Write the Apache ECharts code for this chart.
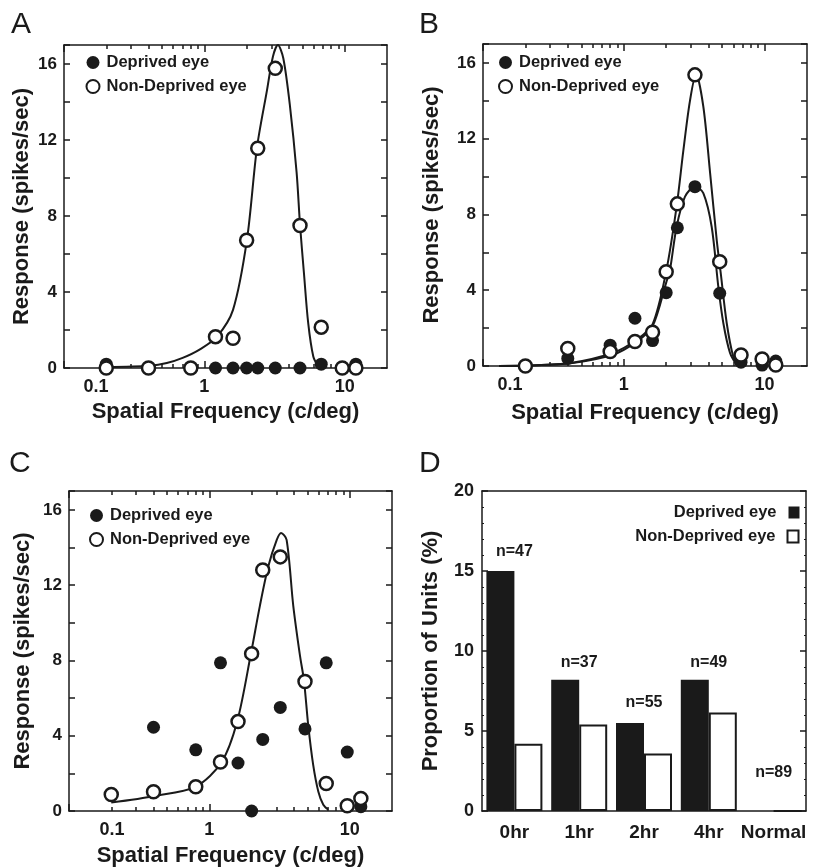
<!DOCTYPE html>
<html>
<head>
<meta charset="UTF-8">
<title>Spatial frequency tuning</title>
<script src="https://cdn.jsdelivr.net/npm/echarts@6/dist/echarts.min.js"></script>
<style>
  body { margin: 0; background: #fff; }
  #main { width: 814px; height: 868px; }
</style>
</head>
<body>
<div id="main"></div>
<script>
// spatial frequencies tested (c/deg), shared by panels A-C
var sf = [0.2, 0.4, 0.8, 1.2, 1.6, 2.0, 2.4, 3.2, 4.8, 6.8, 9.6, 12];

// panel A responses (spikes/sec)
var aDep = [0.2, 0, 0, 0, 0, 0, 0, 0, 0, 0.2, 0, 0.2];
var aNon = [0, 0, 0, 1.65, 1.57, 6.72, 11.57, 15.77, 7.5, 2.15, 0, 0];
// fitted curve A
var aFitF = [0.2, 0.41, 0.54, 0.7, 0.93, 1.23, 1.6, 2.01, 2.37, 2.79, 3.08, 3.34, 3.65, 4.07, 4.54, 4.8, 5.12, 5.49, 5.97, 6.48];
var aFitR = [0.05, 0.12, 0.26, 0.53, 0.98, 1.65, 3.06, 6.74, 11.6, 14.6, 16.4, 17.0, 16.3, 13.8, 10.3, 7.55, 5.0, 2.37, 0.6, 0.07];

// panel B
var bDep = [0, 0.4, 1.1, 2.52, 1.34, 3.87, 7.3, 9.47, 3.84, 0.2, 0.05, 0.26];
var bNon = [0, 0.93, 0.76, 1.29, 1.78, 4.98, 8.56, 15.37, 5.51, 0.58, 0.37, 0.05];
var bFitNF = [0.13, 0.2, 0.42, 0.84, 1.24, 1.6, 2.0, 2.37, 2.65, 2.95, 3.26, 3.67, 4.1, 4.57, 4.88, 5.38, 5.99, 6.51];
var bFitNR = [0, 0.02, 0.16, 0.7, 1.4, 2.2, 5.0, 8.4, 11.4, 14.0, 15.4, 13.7, 10.2, 6.65, 4.9, 2.27, 0.49, 0.05];
var bFitDF = [0.13, 0.2, 0.42, 0.84, 1.24, 1.6, 2.0, 2.13, 2.37, 2.72, 3.2, 3.67, 4.21, 4.69, 5.09, 5.68, 6.34];
var bFitDR = [0, 0.02, 0.14, 0.6, 1.3, 2.1, 4.4, 5.1, 7.34, 8.94, 9.47, 9.13, 7.34, 4.19, 2.27, 0.69, 0.05];

// panel C
var cDep = [null, 4.45, 3.25, 7.87, 2.55, 0, 3.8, 5.5, 4.36, 7.87, 3.13, 0.23];
var cNon = [0.88, 1.02, 1.29, 2.6, 4.75, 8.36, 12.8, 13.5, 6.88, 1.46, 0.28, 0.67];
var cFitF = [0.2, 0.41, 0.8, 1.22, 1.58, 1.98, 2.29, 2.63, 3.02, 3.24, 3.55, 3.96, 4.42, 4.72, 5.06, 5.49, 5.97, 6.48, 7.03];
var cFitR = [0.45, 0.8, 1.3, 2.59, 4.77, 8.38, 10.9, 13.0, 14.4, 14.77, 14.4, 10.9, 8.25, 6.93, 4.56, 2.45, 1.04, 0.33, 0.07];

// panel D: proportion of units (%)
var dCats = ['0hr', '1hr', '2hr', '4hr', 'Normal'];
var dDep = [15, 8.2, 5.5, 8.2, 0];
var dNon = [4.2, 5.4, 3.6, 6.15, 0];
var dN = ['n=47', 'n=37', 'n=55', 'n=49', 'n=89'];
var dNy = [16.2, 9.3, 6.8, 9.3, 2.4];

// log axis ticks
var majorTicks = [0.1, 1, 10];
var minorTicks = [0.2, 0.3, 0.4, 0.5, 0.6, 0.7, 0.8, 0.9, 2, 3, 4, 5, 6, 7, 8, 9];
var sfMin = 0.1, sfMax = 20;

var ink = '#1a1a1a';
var ff = '"Liberation Sans", Arial, Helvetica, sans-serif';
var line = {color: ink, width: 1.5};

function pairs(xs, ys) {
	var out = [];
	for (var i = 0; i < xs.length; i++) {
		if (ys[i] !== null) out.push([xs[i], ys[i]]);
	}
	return out;
}

var panels = [
	{grid: {left: 64, top: 45, width: 323, height: 323}, dep: aDep, non: aNon,
	 fits: [[aFitF, aFitR]], shift: 64, yGap: 31, xGap: 33, lg: {left: 85.5, top: 54}},
	{grid: {left: 483, top: 44, width: 324, height: 322}, dep: bDep, non: bNon,
	 fits: [[bFitNF, bFitNR], [bFitDF, bFitDR]], shift: 54, yGap: 40, xGap: 36, lg: {left: 498, top: 54}},
	{grid: {left: 69, top: 491, width: 323, height: 322}, dep: cDep, non: cNon,
	 fits: [[cFitF, cFitR]], shift: 86, yGap: 35, xGap: 34, lg: {left: 89, top: 507}}
];

// the data axis: log scale, carries labels and name
function logAxis(gi, p) {
	return {
		type: 'log', logBase: 10, min: sfMin, max: sfMax, gridIndex: gi, position: 'bottom',
		splitLine: {show: false},
		axisLine: {show: true, onZero: false, lineStyle: line},
		axisTick: {show: false},
		axisLabel: {
			show: true, customValues: majorTicks, margin: 10,
			fontSize: 18, fontWeight: 'bold', color: ink, fontFamily: ff,
			formatter: function (v) { return v < 0.5 ? '{s|0.1}' : String(Math.round(v)); },
			rich: {s: {padding: [0, 0, 0, p.shift], fontSize: 18, fontWeight: 'bold', color: ink, fontFamily: ff}}
		},
		name: 'Spatial Frequency (c/deg)', nameLocation: 'middle', nameGap: p.xGap,
		nameTextStyle: {fontSize: 22, fontWeight: 'bold', color: ink, fontFamily: ff}
	};
}

// tick-only axes in log10 units, so decade ticks land at 2..9
function tickAxis(gi, pos, vals, len, showLine) {
	return {
		type: 'value', min: Math.log10(sfMin), max: Math.log10(sfMax), gridIndex: gi, position: pos,
		splitLine: {show: false},
		axisLine: {show: showLine, onZero: false, lineStyle: line},
		axisTick: {show: true, inside: true, length: len, lineStyle: line,
			customValues: vals.map(function (v) { return Math.log10(v); })},
		axisLabel: {show: false}
	};
}

function respAxis(gi, pos, p) {
	var ax = {
		type: 'value', gridIndex: gi, position: pos, min: 0, max: 17, interval: 2,
		splitLine: {show: false},
		axisLine: {show: true, onZero: false, lineStyle: line},
		axisTick: {inside: true, length: 6, lineStyle: line},
		axisLabel: {show: pos === 'left', margin: 7, fontSize: 17, fontWeight: 'bold', color: ink, fontFamily: ff,
			formatter: function (v) { return v % 4 === 0 ? String(v) : ''; }}
	};
	if (pos === 'left') {
		ax.name = 'Response (spikes/sec)';
		ax.nameLocation = 'middle';
		ax.nameGap = p.yGap;
		ax.nameTextStyle = {fontSize: 22, fontWeight: 'bold', color: ink, fontFamily: ff};
	}
	return ax;
}

var option = {
	animation: false,
	backgroundColor: '#fff',
	textStyle: {fontFamily: ff, color: ink},
	title: [],
	grid: [],
	xAxis: [],
	yAxis: [],
	legend: [],
	series: []
};

var letters = [['A', 11, 10], ['B', 419, 10], ['C', 9, 449], ['D', 419, 449]];
letters.forEach(function (l) {
	option.title.push({text: l[0], left: l[1], top: l[2], padding: 0,
		textStyle: {fontSize: 30, fontWeight: 'normal', color: ink, fontFamily: ff}});
});

panels.forEach(function (p, k) {
	option.grid.push(p.grid);
	var xi = option.xAxis.length, yi = option.yAxis.length;
	option.xAxis.push(logAxis(k, p));
	option.xAxis.push(tickAxis(k, 'bottom', majorTicks, 7, false));
	option.xAxis.push(tickAxis(k, 'bottom', minorTicks, 4, false));
	option.xAxis.push(tickAxis(k, 'top', majorTicks, 7, true));
	option.xAxis.push(tickAxis(k, 'top', minorTicks, 4, false));
	option.yAxis.push(respAxis(k, 'left', p));
	option.yAxis.push(respAxis(k, 'right', p));

	p.fits.forEach(function (fit) {
		option.series.push({type: 'line', xAxisIndex: xi, yAxisIndex: yi, data: pairs(fit[0], fit[1]),
			smooth: 0.3, symbol: 'none', showSymbol: false, clip: false, silent: true, z: 2,
			lineStyle: {color: ink, width: 2}});
	});
	option.series.push({name: 'Deprived eye', type: 'scatter', xAxisIndex: xi, yAxisIndex: yi,
		data: pairs(sf, p.dep), symbolSize: 13, clip: false, z: 3, itemStyle: {color: ink, opacity: 1}});
	option.series.push({name: 'Non-Deprived eye', type: 'scatter', xAxisIndex: xi, yAxisIndex: yi,
		data: pairs(sf, p.non), symbolSize: 13, clip: false, z: 4,
		itemStyle: {color: '#fff', borderColor: ink, borderWidth: 2.5, opacity: 1}});

	option.legend.push({
		data: ['Deprived eye', 'Non-Deprived eye'], orient: 'vertical',
		left: p.lg.left, top: p.lg.top, padding: 0, itemGap: 7,
		itemWidth: 17, itemHeight: 13, selectedMode: false,
		textStyle: {fontSize: 16.5, fontWeight: 'bold', color: ink, fontFamily: ff}
	});
});

// panel D
option.grid.push({left: 482, top: 491, width: 324, height: 320});
var dx = option.xAxis.length, dy = option.yAxis.length;
option.xAxis.push({type: 'category', gridIndex: 3, data: dCats, position: 'bottom',
	axisLine: {lineStyle: line}, axisTick: {show: false},
	axisLabel: {interval: 0, margin: 12, fontSize: 19, fontWeight: 'bold', color: ink, fontFamily: ff}});
option.xAxis.push({type: 'value', gridIndex: 3, position: 'top', min: 0, max: 1,
	axisLine: {show: true, onZero: false, lineStyle: line}, axisTick: {show: false}, axisLabel: {show: false},
	splitLine: {show: false}});
['left', 'right'].forEach(function (pos) {
	var ax = {type: 'value', gridIndex: 3, position: pos, min: 0, max: 20, interval: 5,
		splitLine: {show: false},
		axisLine: {show: true, onZero: false, lineStyle: line},
		axisTick: {inside: true, length: 6, lineStyle: line},
		minorTick: {show: true, splitNumber: 5, length: 2, lineStyle: {color: ink, width: 1}},
		axisLabel: {show: pos === 'left', margin: 8, fontSize: 18, fontWeight: 'bold', color: ink, fontFamily: ff}};
	if (pos === 'left') {
		ax.name = 'Proportion of Units (%)';
		ax.nameLocation = 'middle';
		ax.nameGap = 40;
		ax.nameTextStyle = {fontSize: 22, fontWeight: 'bold', color: ink, fontFamily: ff};
	}
	option.yAxis.push(ax);
});
option.series.push({name: 'Deprived eye', type: 'bar', xAxisIndex: dx, yAxisIndex: dy,
	data: dDep, barWidth: 28, barGap: '0%', z: 2, itemStyle: {color: ink}});
option.series.push({name: 'Non-Deprived eye', type: 'bar', xAxisIndex: dx, yAxisIndex: dy,
	data: dNon, barWidth: 28, barGap: '0%', z: 2,
	itemStyle: {color: '#fff', borderColor: ink, borderWidth: 2}});
option.series.push({type: 'scatter', xAxisIndex: dx, yAxisIndex: dy, silent: true, z: 5,
	data: dCats.map(function (c, i) { return {value: [c, dNy[i]], label: {formatter: dN[i]}}; }),
	symbolSize: 0, itemStyle: {color: ink, opacity: 1},
	label: {show: true, position: 'inside', fontSize: 16, fontWeight: 'bold', color: ink,
		fontFamily: ff, textBorderWidth: 0}});

var dLegendStyle = {fontSize: 16.5, fontWeight: 'bold', color: ink, fontFamily: ff,
	rich: {t: {padding: [0, 7, 0, 0], fontSize: 16.5, fontWeight: 'bold', color: ink, fontFamily: ff}}};
option.legend.push({data: [{name: 'Deprived eye', icon: 'rect', itemStyle: {color: ink, borderWidth: 0}}],
	right: 14.5, top: 504, padding: 0, align: 'right', itemWidth: 11, itemHeight: 12, selectedMode: false,
	formatter: function (n) { return '{t|' + n + '}'; }, textStyle: dLegendStyle});
option.legend.push({data: [{name: 'Non-Deprived eye', icon: 'rect', itemStyle: {color: '#fff', borderColor: ink, borderWidth: 2}}],
	right: 14.5, top: 528, padding: 0, align: 'right', itemWidth: 11, itemHeight: 12, selectedMode: false,
	formatter: function (n) { return '{t|' + n + '}'; }, textStyle: dLegendStyle});

var myChart = echarts.init(document.getElementById('main'));
myChart.setOption(option);
</script>
</body>
</html>
